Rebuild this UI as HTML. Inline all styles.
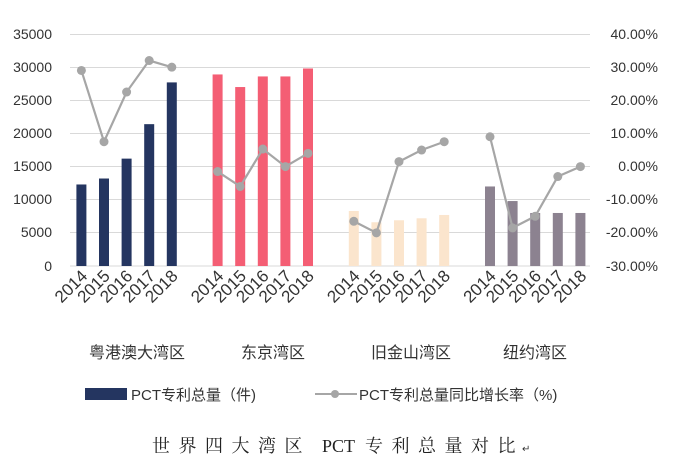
<!DOCTYPE html>
<html><head><meta charset="utf-8"><style>
body{margin:0;background:#fff;width:680px;height:475px;overflow:hidden}
svg{display:block}
text{font-family:"Liberation Sans","Noto Sans CJK SC",sans-serif;fill:#333}
text.serif{font-family:"Liberation Serif","Noto Serif CJK SC",serif;fill:#222}
</style></head><body>
<svg width="680" height="475" viewBox="0 0 680 475">
<g stroke="#d9d9d9" stroke-width="1">
<line x1="70" x2="590" y1="34.5" y2="34.5"/><line x1="70" x2="590" y1="67.5" y2="67.5"/>
<line x1="70" x2="590" y1="100.5" y2="100.5"/><line x1="70" x2="590" y1="133.5" y2="133.5"/>
<line x1="70" x2="590" y1="166.5" y2="166.5"/><line x1="70" x2="590" y1="199.5" y2="199.5"/>
<line x1="70" x2="590" y1="232.5" y2="232.5"/><line x1="70" x2="590" y1="266" y2="266"/>
</g>
<g font-size="14" text-anchor="end">
<text x="52" y="39">35000</text><text x="52" y="72">30000</text><text x="52" y="105">25000</text>
<text x="52" y="138">20000</text><text x="52" y="171">15000</text><text x="52" y="204">10000</text>
<text x="52" y="237">5000</text><text x="52" y="271">0</text>
</g>
<g font-size="14" text-anchor="end">
<text x="658" y="39">40.00%</text><text x="658" y="72">30.00%</text><text x="658" y="105">20.00%</text>
<text x="658" y="138">10.00%</text><text x="658" y="171">0.00%</text><text x="658" y="204">-10.00%</text>
<text x="658" y="237">-20.00%</text><text x="658" y="271">-30.00%</text>
</g>
<g id="bars"></g>
<g id="lines"></g>
<g id="xl" font-size="17"></g>
<g font-size="16" text-anchor="middle">
<text x="137" y="358">粤港澳大湾区</text><text x="273" y="358">东京湾区</text>
<text x="411" y="358">旧金山湾区</text><text x="535" y="358">纽约湾区</text>
</g>
<rect x="85" y="388" width="42" height="12" fill="#243560"/>
<text x="131" y="400" font-size="15">PCT专利总量（件)</text>
<line x1="315" x2="357" y1="394" y2="394" stroke="#a6a6a6" stroke-width="2"/>
<circle cx="335" cy="394" r="4" fill="#a6a6a6"/>
<text x="359" y="400" font-size="15">PCT专利总量同比增长率（%)</text>
<text class="serif" x="152" y="452" font-size="18" style="letter-spacing:8.5px">世界四大湾区</text>
<text class="serif" x="322" y="452" font-size="18">PCT</text>
<text class="serif" x="365" y="452" font-size="18" style="letter-spacing:8.5px">专利总量对比</text>
<text x="522" y="452" font-size="10" fill="#888">↵</text>
</svg>
<script>
const ns="http://www.w3.org/2000/svg";
const groups=[
 {c:"#243560",v:[12300,13200,16200,21400,27700],p:[29,7.5,22.5,32,30]},
 {c:"#f45e74",v:[28900,27000,28600,28600,29800],p:[-1.5,-6,5.3,0,4]},
 {c:"#fbe5cd",v:[8300,6600,6900,7200,7700],p:[-16.5,-20,1.5,5,7.5]},
 {c:"#8c8290",v:[12000,9800,8000,8000,8000],p:[9,-18.5,-15,-3,0]}];
const bars=document.getElementById("bars"),lines=document.getElementById("lines"),xl=document.getElementById("xl");
const yv=v=>266-v/5000*33.14, yp=p=>266-(p+30)/10*33.14;
groups.forEach((g,gi)=>{
 let pts=[];
 g.v.forEach((v,i)=>{
  const cx=81.4+gi*136.2+i*22.6;
  const r=document.createElementNS(ns,"rect");
  r.setAttribute("x",cx-5);r.setAttribute("width",10);r.setAttribute("y",yv(v));r.setAttribute("height",266-yv(v));r.setAttribute("fill",g.c);bars.appendChild(r);
  pts.push([cx,yp(g.p[i])]);
  const t=document.createElementNS(ns,"text");
  t.setAttribute("text-anchor","end");
  t.setAttribute("transform","translate("+(cx+7)+",277) rotate(-45)");
  t.textContent=2014+i;xl.appendChild(t);
 });
 const pl=document.createElementNS(ns,"polyline");
 pl.setAttribute("points",pts.map(p=>p.join(",")).join(" "));
 pl.setAttribute("fill","none");pl.setAttribute("stroke","#a6a6a6");pl.setAttribute("stroke-width","2.2");lines.appendChild(pl);
 pts.forEach(p=>{const c=document.createElementNS(ns,"circle");c.setAttribute("cx",p[0]);c.setAttribute("cy",p[1]);c.setAttribute("r",4.5);c.setAttribute("fill","#a6a6a6");lines.appendChild(c);});
});
</script>
</body></html>
